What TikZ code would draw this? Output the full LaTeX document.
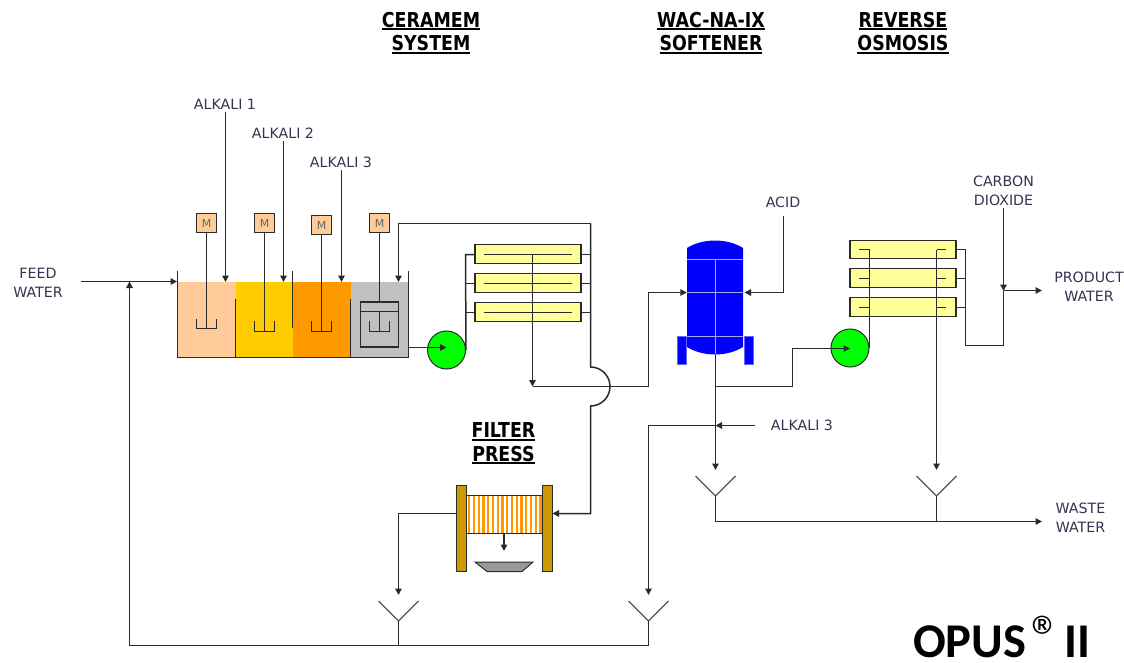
\documentclass[tikz,border=0pt]{standalone}
\usepackage{fontspec}
\setmainfont{DejaVu Sans}
\newfontfamily\opusfont{Carlito}
\newfontfamily\ttlfont[FakeStretch=0.85]{DejaVu Sans}
\newcommand{\ttlu}[1]{\leavevmode\setbox0=\hbox{#1}\rlap{\rule[-3pt]{\wd0}{1.9pt}}\box0}
\usetikzlibrary{arrows.meta,calc}
\definecolor{lnk}{HTML}{2A2A2A}
\definecolor{peach}{HTML}{FFCC99}
\definecolor{goldy}{HTML}{FFCC00}
\definecolor{orng}{HTML}{FF9900}
\definecolor{grayt}{HTML}{C0C0C0}
\definecolor{paley}{HTML}{FFFF99}
\definecolor{brassy}{HTML}{CC9900}
\definecolor{txt}{HTML}{3A3050}
\tikzset{
  x=1pt,y=-1pt,
  lnkline/.style={draw=lnk,line width=1.5pt,line join=miter},
  arr/.style={lnkline,-{Triangle[length=6.5pt,width=6.5pt]}},
  comp/.style={rectangle,inner sep=0pt,minimum width=58pt,minimum height=75pt},
  motor/.style={rectangle,draw=lnk,line width=1.3pt,fill=peach,inner sep=0pt,minimum size=19.5pt,font=\fontsize{11}{11}\selectfont,text=gray!80!black},
  pumpn/.style={circle,draw=lnk,line width=1pt,fill=green,inner sep=0pt,minimum size=38pt},
  module/.style={rectangle,draw=lnk,line width=1.3pt,fill=paley,inner sep=0pt,minimum width=106pt,minimum height=18.5pt},
  lbl/.style={align=center,text=txt,font=\fontsize{14.2}{19.3}\selectfont,inner sep=0pt},
  ttl/.style={align=center,text=black,font=\fontsize{20.5}{23.5}\selectfont\ttlfont\bfseries,inner sep=0pt},
  plate/.style={rectangle,draw=lnk,line width=1pt,fill=brassy,inner sep=0pt,minimum width=10pt,minimum height=86pt},
  leg/.style={rectangle,fill=blue,draw=blue!60!white,line width=.6pt,inner sep=0pt,minimum width=9pt,minimum height=28pt},
}
\begin{document}
\begin{tikzpicture}
\useasboundingbox (0,0) rectangle (1124,663);
% titles
\node[ttl] (tcer) at (431,33) {\ttlu{CERAMEM}\\\ttlu{SYSTEM}};
\node[ttl] (twac) at (711,33) {\ttlu{WAC-NA-IX}\\\ttlu{SOFTENER}};
\node[ttl] (trev) at (903,33) {\ttlu{REVERSE}\\\ttlu{OSMOSIS}};
\node[ttl] (tfil) at (503.5,443.5) {\ttlu{FILTER}\\\ttlu{PRESS}};
\node[anchor=base west,inner sep=0pt,font=\fontsize{48.5}{48.5}\selectfont\bfseries\opusfont] (opus) at (913,657) {OPUS\kern.1em\raisebox{-.02em}{\fontsize{60}{60}\selectfont\mdseries ®}\kern.06em II};
% labels
\node[lbl] (a1) at (225,104) {ALKALI 1};
\node[lbl] (a2) at (283,133) {ALKALI 2};
\node[lbl] (a3) at (341,162) {ALKALI 3};
\node[lbl] (feed) at (38,283) {FEED\\WATER};
\node[lbl] (acid) at (783,202) {ACID};
\node[lbl] (co2) at (1003.5,190.5) {CARBON\\DIOXIDE};
\node[lbl] (prod) at (1089,287) {PRODUCT\\WATER};
\node[lbl] (waste) at (1080.5,518) {WASTE\\WATER};
\node[lbl] (a3b) at (802,425) {ALKALI 3};
% tank compartments
\node[comp,fill=peach] (t1) at (206.5,319.5) {};
\node[comp,fill=goldy,minimum width=57pt] (t2) at (264,319.5) {};
\node[comp,fill=orng] (t3) at (321.5,319.5) {};
\node[comp,fill=grayt] (t4) at (379.5,319.5) {};
\coordinate (wl) at (177.5,271); \coordinate (wr) at (408.5,271);
\draw[lnkline] (wl) -- (177.5,357.5) -- (408.5,357.5) -- (wr);
\draw[lnkline] (235.5,299) -- (235.5,357.5);
\draw[lnkline] (292.5,271) -- (292.5,328);
\draw[lnkline] (350.5,299) -- (350.5,357.5);
% motors and mixers
\node[motor] (m1) at (206.5,223) {M};
\node[motor] (m2) at (264.5,223) {M};
\node[motor] (m3) at (321.5,225) {M};
\node[motor] (m4) at (379.5,223) {M};
\draw[lnkline] (m1.south) -- (206.5,328.5);
\draw[lnkline] (196.5,319) -- (196.5,328.5) -- (216.5,328.5) -- (216.5,319);
\draw[lnkline] (m2.south) -- (264.5,331.5);
\draw[lnkline] (254.5,321) -- (254.5,331.5) -- (274.5,331.5) -- (274.5,321);
\draw[lnkline] (m3.south) -- (321.5,331.5);
\draw[lnkline] (311.5,321) -- (311.5,331.5) -- (331.5,331.5) -- (331.5,321);
\draw[lnkline] (m4.south) -- (379.5,302);
\node[rectangle,draw=lnk,line width=1.4pt,inner sep=0pt,minimum width=38pt,minimum height=45pt] (clar) at (379.5,324.5) {};
\draw[lnkline] (clar.north west)++(0,10) -- ++(38,0);
\draw[lnkline] (379.5,312) -- (379.5,331.5);
\draw[lnkline] (369.5,321) -- (369.5,331.5) -- (389.5,331.5) -- (389.5,321);
% alkali feeds
\draw[arr] (225.5,112) -- (225.5,282);
\draw[arr] (283.5,141) -- (283.5,282);
\draw[arr] (341.5,170) -- (341.5,282);
% feed and recycle
\coordinate (feedS) at (81,281.5);
\coordinate (tankin) at (177,281.5);
\draw[arr] (feedS) -- (tankin);
% pump 1 and ceramem modules
\node[pumpn] (p1) at (446.5,350) {};
\coordinate (p1c) at (446.5,347.5);
\node[module] (c1) at (528,254) {};
\node[module] (c2) at (528,283) {};
\node[module] (c3) at (528,312) {};
\draw[arr] (408.5,347.5) -- (p1c);
\draw[lnkline] (p1.east) -- (465.5,254.5) -- (c1.west |- 465.5,254.5);
\draw[lnkline] (465.5,283.5) -- (c2.west |- 465.5,283.5);
\draw[lnkline] (465.5,312.5) -- (c3.west |- 465.5,312.5);
\foreach \n in {c1,c2,c3} \draw[lnkline] ($(\n.center)+(-44,.5)$) -- ($(\n.center)+(44,.5)$);
\draw[lnkline] (c1.east |- 590.5,254.5) -- (590.5,254.5);
\draw[lnkline] (c2.east |- 590.5,283.5) -- (590.5,283.5);
\draw[lnkline] (c3.east |- 590.5,312.5) -- (590.5,312.5);
\draw[arr] (590.5,223.5) -- (398.5,223.5) -- (398.5,282);
% concentrate line with hop, to press
\node[plate] (pr) at (547,528) {};
\node[plate] (pl) at (461,528) {};
\draw[arr] (590.5,223.5) -- (590.5,367) arc[start angle=-90,end angle=90,radius=19.5] -- (590.5,513.5) -- (pr.east |- 590.5,513.5);
% permeate
\coordinate (perm) at (532.5,386.5);
\draw[arr] (532.5,254.5) -- (perm);
% softener
\node[inner sep=0pt,minimum width=56pt,minimum height=115pt] (vessel) at (715,297.5) {};
\node[leg] (legl) at (681.5,350) {};
\node[leg] (legr) at (749,350) {};
\fill[blue] (687,248) .. controls (695,243) and (705,240.5) .. (715,240.5) .. controls (725,240.5) and (735,243) .. (743,248) -- (743,347) .. controls (735,352) and (725,354.5) .. (715,354.5) .. controls (705,354.5) and (695,352) .. (687,347) -- cycle;
\draw[blue!35!white,line width=1pt] (687,259.5) -- (743,259.5) (687,292.5) -- (743,292.5) (687,336.5) -- (743,336.5) (715.5,259.5) -- (715.5,354);
\draw[arr] (perm) -- (648.5,386.5) -- (648.5,292.5) -- (vessel.west |- 648.5,292.5);
\coordinate (acidS) at (783.5,216);
\draw[arr] (acidS) -- (783.5,292.5) -- (744.5,292.5);
% softener outlet
\coordinate (y1top) at (715.5,470);
\draw[arr] (715.5,354) -- (y1top);
% alkali 3 lower
\coordinate (ajoin) at (715.5,425.5);
\draw[arr] (755,425.5) -- (ajoin);
\coordinate (y3top) at (648.5,595);
\draw[arr] (ajoin) -- (648.5,425.5) -- (y3top);
% RO
\node[pumpn] (p2) at (850,348) {};
\node[module] (r1) at (903,249.5) {};
\node[module] (r2) at (903,278) {};
\node[module] (r3) at (903,307) {};
\draw[arr] (715.5,386.5) -- (792.5,386.5) -- (792.5,348.5) -- (p2.center |- 792.5,348.5);
\draw[lnkline] (p2.east) -- (869.5,249.5) -- (859,249.5);
\draw[lnkline] (869.5,278.5) -- (859,278.5);
\draw[lnkline] (869.5,307.5) -- (859,307.5);
\coordinate (y2top) at (936.5,470);
\draw[lnkline] (946,249.5) -- (936.5,249.5);
\draw[lnkline] (946,278.5) -- (936.5,278.5);
\draw[lnkline] (946,307.5) -- (936.5,307.5);
\draw[arr] (936.5,249.5) -- (y2top);
\draw[lnkline] (r1.east) -- (965.5,249.5);
\draw[lnkline] (r2.east |- 965.5,278.5) -- (965.5,278.5);
\draw[lnkline] (r3.east |- 965.5,307.5) -- (965.5,307.5);
\draw[lnkline] (965.5,249.5) -- (965.5,345.5) -- (1003.5,345.5) -- (1003.5,291);
\draw[arr] (1003.5,208) -- (1003.5,291);
\coordinate (prodS) at (1042,290.5);
\draw[arr] (1003.5,290.5) -- (prodS);
% filter press
\node[rectangle,fill=white,draw=lnk,line width=1pt,inner sep=0pt,minimum width=76pt,minimum height=38pt] (fp) at (504,514) {};
\foreach \i in {0,...,15} \fill[orange!80!yellow] (468+\i*4.75,495.5) rectangle ++(2.4,37);
\node[inner sep=0pt] (fpb) at (504,533) {};
\coordinate (trayT) at (504,551);
\draw[arr] (fpb) -- (trayT);
\fill[gray!80!white,draw=lnk,line width=1pt] (475,562) -- (533,562) -- (522,571.5) -- (487,571.5) -- cycle;
\draw[arr] (pl.west |- 398.5,513.5) -- (398.5,513.5) -- (398.5,595);
% drains
\foreach \nm/\xx/\yy in {da/398.5/601,db/648.5/601,dc/715.5/476,dd/936.5/476} {
  \coordinate (\nm) at (\xx,\yy+20);
  \draw[draw=lnk!80!white,line width=1.1pt] (\xx-20,\yy) -- (\nm) -- (\xx+20,\yy);
}
\draw[lnkline] (da) -- (398.5,645.5);
\draw[lnkline] (db) -- (648.5,645.5) -- (129.5,645.5);
\coordinate (recyc) at (129.5,281.5);
\draw[arr] (129.5,645.5) -- (recyc);
\draw[lnkline] (dd) -- (936.5,521.5);
\coordinate (wasteS) at (1042,521.5);
\draw[arr] (dc) -- (715.5,521.5) -- (wasteS);
\end{tikzpicture}
\end{document}
